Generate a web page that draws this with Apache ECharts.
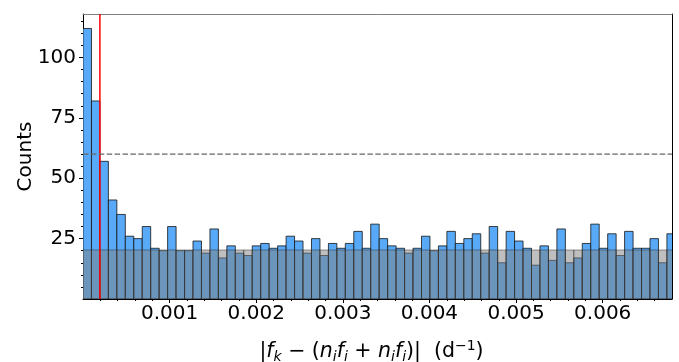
<!DOCTYPE html>
<html><head><meta charset="utf-8">
<script src="https://cdn.jsdelivr.net/npm/echarts@6/dist/echarts.min.js"></script>
<style>html,body{margin:0;padding:0;background:#fff}#c{width:679px;height:362px}</style>
</head><body><div id="c"></div>
<script>
// ---- data ----
const binWidth = 0.0000977;   // histogram bin width (d^-1)
const observedCounts = [112, 82, 57, 41, 35, 26, 25, 30, 21, 20,
  30, 20, 20, 24, 19, 29, 17, 22, 19, 18,
  22, 23, 21, 22, 26, 24, 19, 25, 18, 23,
  21, 23, 28, 21, 31, 25, 22, 21, 19, 21,
  26, 20, 22, 28, 23, 25, 27, 19, 30, 15,
  28, 24, 21, 14, 22, 16, 29, 15, 17, 23,
  31, 21, 27, 18, 28, 21, 21, 25, 15, 27];
const expectedCounts = [20.3, 20.3, 20.3, 20.3, 20.3, 20.3, 20.3, 20.3, 20.3, 20.3,
  20.3, 20.3, 20.3, 20.3, 20.3, 20.3, 20.3, 20.3, 20.3, 20.3,
  20.3, 20.3, 20.3, 20.3, 20.3, 20.3, 20.3, 20.3, 20.3, 20.3,
  20.3, 20.3, 20.3, 20.3, 20.3, 20.3, 20.3, 20.3, 20.3, 20.3,
  20.3, 20.3, 20.3, 20.3, 20.3, 20.3, 20.3, 20.3, 20.3, 20.3,
  20.3, 20.3, 20.3, 20.3, 20.3, 20.3, 20.3, 20.3, 20.3, 20.3,
  20.3, 20.3, 20.3, 20.3, 20.3, 20.3, 20.3, 20.3, 20.3, 20.3];
const xMajorTicks = [0.001, 0.002, 0.003, 0.004, 0.005, 0.006];
const xMinorTicks = [0.0002, 0.0004, 0.0006, 0.0008, 0.0012, 0.0014, 0.0016, 0.0018,
  0.0022, 0.0024, 0.0026, 0.0028, 0.0032, 0.0034, 0.0036, 0.0038,
  0.0042, 0.0044, 0.0046, 0.0048, 0.0052, 0.0054, 0.0056, 0.0058,
  0.0062, 0.0064, 0.0066];
const yMajorTicks = [25, 50, 75, 100];
const yMinorTicks = [5, 10, 15, 20, 30, 35, 40, 45, 55, 60, 65, 70, 80, 85, 90, 95, 105, 110, 115];
const thresholdX = 0.000195;  // red vertical line
const thresholdY = 60;        // dashed horizontal line
const xMax = 0.0068;
const yMax = 118;

// ---- build ----
const binsOf = arr => arr.map((c, i) => [i * binWidth, (i + 1) * binWidth, c]);

function barRenderer(fill, stroke) {
  return function (params, api) {
    const p0 = api.coord([api.value(0), 0]);
    const p1 = api.coord([api.value(1), api.value(2)]);
    return {
      type: 'rect',
      shape: { x: p0[0], y: p1[1], width: p1[0] - p0[0], height: p0[1] - p1[1] },
      style: { fill: fill, stroke: stroke, lineWidth: 1 }
    };
  };
}

const font = 'DejaVu Sans';
const chart = echarts.init(document.getElementById('c'), null, { renderer: 'canvas' });
chart.setOption({
  animation: false,
  backgroundColor: '#fff',
  grid: { left: 83, right: 7, top: 14, bottom: 63, containLabel: false, outerBoundsMode: 'none' },
  xAxis: [
    {
      type: 'value', min: 0, max: xMax, position: 'bottom',
      axisLine: { show: true, onZero: false, lineStyle: { color: '#000', width: 1 } },
      axisTick: { show: true, customValues: xMajorTicks, length: 4, lineStyle: { color: '#000' } },
      axisLabel: { customValues: xMajorTicks, formatter: v => v.toFixed(3), fontSize: 20,
        color: '#000', margin: 5, fontFamily: font },
      splitLine: { show: false },
      name: '{n||}{i|f}{sub|k}{n| − (}{i|n}{sub|i}{i|f}{sub|i}{n| + }{i|n}{sub|i}{i|f}{sub|i}{n|)|  (d}{sup|−1}{n|)}',
      nameLocation: 'middle', nameGap: 40,
      nameTextStyle: {
        padding: [0, 12, 0, 0],
        rich: {
          n: { fontSize: 20.5, fontFamily: font, color: '#000', lineHeight: 25 },
          i: { fontSize: 20.5, fontFamily: font, fontStyle: 'italic', color: '#000', lineHeight: 25 },
          sub: { fontSize: 14, fontFamily: font, fontStyle: 'italic', color: '#000', verticalAlign: 'bottom', lineHeight: 15 },
          sup: { fontSize: 14, fontFamily: font, color: '#000', verticalAlign: 'top', lineHeight: 15 }
        }
      }
    },
    {
      type: 'value', min: 0, max: xMax, position: 'bottom',
      axisLine: { show: false, onZero: false },
      axisTick: { show: true, customValues: xMinorTicks, length: 2, lineStyle: { color: '#000' } },
      axisLabel: { show: false }, splitLine: { show: false }
    },
    {
      type: 'value', min: 0, max: xMax, position: 'top',
      axisLine: { show: true, onZero: false, lineStyle: { color: '#808080', width: 1 } },
      axisTick: { show: false }, axisLabel: { show: false }, splitLine: { show: false }
    }
  ],
  yAxis: [
    {
      type: 'value', min: 0, max: yMax, position: 'left',
      axisLine: { show: true, onZero: false, lineStyle: { color: '#000', width: 1 } },
      axisTick: { show: true, customValues: yMajorTicks, length: 4, lineStyle: { color: '#000' } },
      axisLabel: { customValues: yMajorTicks, fontSize: 20, color: '#000', margin: 7, fontFamily: font },
      splitLine: { show: false },
      name: 'Counts', nameLocation: 'middle', nameGap: 47, nameRotate: 90, nameMoveOverlap: false,
      nameTextStyle: { fontSize: 20, fontFamily: font, color: '#000' }
    },
    {
      type: 'value', min: 0, max: yMax, position: 'left',
      axisLine: { show: false, onZero: false },
      axisTick: { show: true, customValues: yMinorTicks, length: 2, lineStyle: { color: '#000' } },
      axisLabel: { show: false }, splitLine: { show: false }
    },
    {
      type: 'value', min: 0, max: yMax, position: 'right',
      axisLine: { show: true, onZero: false, lineStyle: { color: '#000', width: 1 } },
      axisTick: { show: false }, axisLabel: { show: false }, splitLine: { show: false }
    }
  ],
  series: [
    {
      type: 'custom', name: 'observed', xAxisIndex: 0, yAxisIndex: 0, clip: true, z: 2,
      renderItem: barRenderer('#58aaf8', 'rgba(20,20,20,0.8)'),
      encode: { x: [0, 1], y: 2 },
      data: binsOf(observedCounts)
    },
    {
      type: 'custom', name: 'expected', xAxisIndex: 0, yAxisIndex: 0, clip: true, z: 3,
      renderItem: barRenderer('rgba(128,128,128,0.5)', 'rgba(40,40,40,0.45)'),
      encode: { x: [0, 1], y: 2 },
      data: binsOf(expectedCounts)
    },
    {
      type: 'line', xAxisIndex: 0, yAxisIndex: 0, z: 5, symbol: 'none',
      lineStyle: { color: '#ff0000', width: 1.5 },
      data: [[thresholdX, 0], [thresholdX, yMax]]
    },
    {
      type: 'line', xAxisIndex: 0, yAxisIndex: 0, z: 5, symbol: 'none',
      lineStyle: { color: '#666666', width: 1.3, type: [5.5, 2.4] },
      data: [[0, thresholdY], [xMax, thresholdY]]
    }
  ]
});
</script>
</body></html>
